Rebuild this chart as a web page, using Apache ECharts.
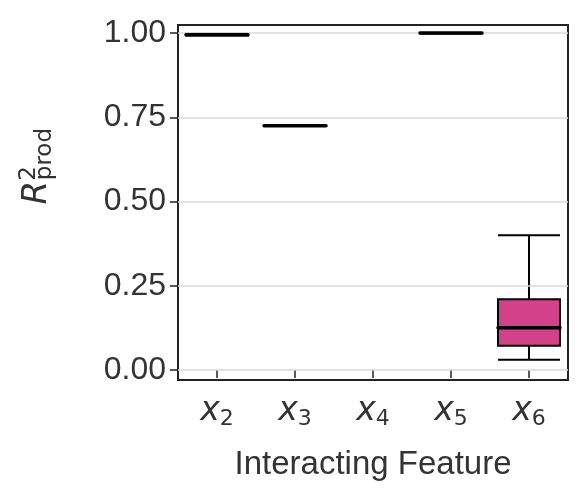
<!DOCTYPE html>
<html><head><meta charset="utf-8">
<script src="https://cdn.jsdelivr.net/npm/echarts@6/dist/echarts.min.js"></script>
<style>html,body{margin:0;padding:0;background:#fff}#c{width:586px;height:503px}</style>
</head><body><div id="c"></div>
<script>
const categories = ['x2','x3','x4','x5','x6'];
const subs = ['2','3','4','5','6'];
// [min, q1, median, q3, max]; null for no data
const boxValues = [
  [0.993, 0.993, 0.995, 0.998, 0.998],
  [0.725, 0.725, 0.725, 0.725, 0.725],
  null,
  [0.999, 0.999, 1.0, 1.0, 1.0],
  [0.03, 0.072, 0.125, 0.21, 0.40]
];
const boxColors = ['#ffffff','#ffffff','#ffffff','#ffffff','#d3418b'];
const yTicks = [0, 0.25, 0.5, 0.75, 1.0];

const chart = echarts.init(document.getElementById('c'));
const txt = '#333';
chart.setOption({
  animation:false,
  grid:{left:178,right:18,top:25,bottom:123,show:true,borderColor:'#222',borderWidth:2,backgroundColor:'#fff'},
  xAxis:{type:'category',data:categories,
    axisLine:{show:false},axisTick:{show:true,alignWithLabel:true,length:8,lineStyle:{color:'#222',width:1.5}},
    axisLabel:{margin:12,formatter:(v,i)=>'{x|x}{s|'+subs[i]+'}',
      rich:{x:{fontFamily:'DejaVu Sans',fontStyle:'italic',fontSize:33,color:txt},
            s:{fontFamily:'DejaVu Sans',fontSize:22,color:txt,verticalAlign:'bottom',padding:[16,0,0,0]}}},
    name:'Interacting Feature',nameLocation:'middle',nameGap:68,
    nameTextStyle:{fontFamily:'Liberation Sans',fontSize:33,color:txt}},
  yAxis:{type:'value',min:-0.03,max:1.024,
    axisLine:{show:false},
    axisTick:{show:true,length:8,customValues:yTicks,lineStyle:{color:'#222',width:1.5}},
    axisLabel:{customValues:yTicks,formatter:v=>v.toFixed(2),fontFamily:'Liberation Sans',fontSize:32,color:txt,margin:12},
    splitLine:{show:false}},
  series:[
    {type:'line',data:[],markLine:{silent:true,symbol:'none',label:{show:false},
      lineStyle:{color:'#d8d8d8',width:1.5,type:'solid'},
      data:yTicks.map(v=>({yAxis:v}))}},
    {type:'boxplot',boxWidth:[62,62],
      data:boxValues.map((v,i)=>v?{value:v,itemStyle:{color:boxColors[i],borderColor:'#000',borderWidth:2}}:'-'),
      itemStyle:{borderColor:'#000',borderWidth:2}},
    {type:'custom',z:10,
      data:boxValues.map((v,i)=>v?[i,v[2]]:null).filter(d=>d),
      renderItem:(params,api)=>{
        const p=api.coord([api.value(0),api.value(1)]);
        return {type:'line',shape:{x1:p[0]-31,y1:p[1],x2:p[0]+31,y2:p[1]},
          style:{stroke:'#000',lineWidth:3.5,lineCap:'round'}};
      }}
  ],
  graphic:[{type:'text',left:18,top:128,rotation:Math.PI/2,
    style:{text:'{r|R}{p|2}{q|prod}',rich:{
      r:{fontFamily:'DejaVu Sans',fontStyle:'italic',fontSize:34,fill:txt},
      p:{fontFamily:'DejaVu Sans',fontSize:23,fill:txt,verticalAlign:'top',padding:[0,0,16,0]},
      q:{fontFamily:'DejaVu Sans',fontSize:23,fill:txt,verticalAlign:'bottom',padding:[16,0,0,-14]}}}}]
});
</script></body></html>
